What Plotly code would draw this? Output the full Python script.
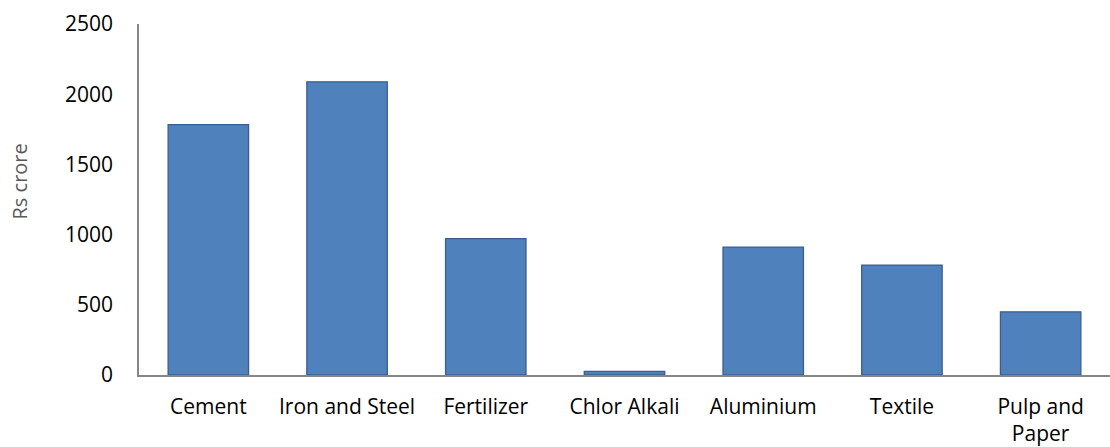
import plotly.graph_objects as go

categories = ["Cement", "Iron and Steel", "Fertilizer", "Chlor Alkali", "Aluminium", "Textile", "Pulp and<br>Paper"]
values = [1783, 2088, 971, 26, 911, 783, 450]
y_ticks = [0, 500, 1000, 1500, 2000, 2500]

FONT = "Open Sans"

fig = go.Figure()
fig.add_trace(go.Bar(
    x=categories, y=values,
    marker=dict(color="#4F81BD", line=dict(color="#3A5F8E", width=1.3)),
    width=0.58,
))

fig.update_layout(
    width=1110, height=447,
    margin=dict(l=139, r=0, t=23.5, b=71.5),
    paper_bgcolor="white", plot_bgcolor="white",
    showlegend=False,
    font=dict(family=FONT, size=21, color="#000000"),
    xaxis=dict(
        showline=True, linecolor="#868686", linewidth=1.5,
        showgrid=False, ticks="", tickfont=dict(size=21, color="#000000"),
        ticklabelstandoff=12, automargin=False,
    ),
    yaxis=dict(
        range=[0, 2500], tickvals=y_ticks,
        showline=True, linecolor="#868686", linewidth=1.5,
        showgrid=False, ticks="", zeroline=False,
        tickfont=dict(size=21, color="#000000"),
        ticklabelstandoff=20, automargin=False,
    ),
    annotations=[dict(
        text="Rs crore", textangle=-90,
        xref="paper", yref="paper", x=-0.123, y=0.55,
        showarrow=False, xanchor="center", yanchor="middle",
        font=dict(family=FONT, size=20, color="#595959"),
    )],
)

fig.write_html(
    "out.html",
    config={"displayModeBar": False},
    post_script="document.body.style.margin='0';document.body.style.padding='0';",
)
